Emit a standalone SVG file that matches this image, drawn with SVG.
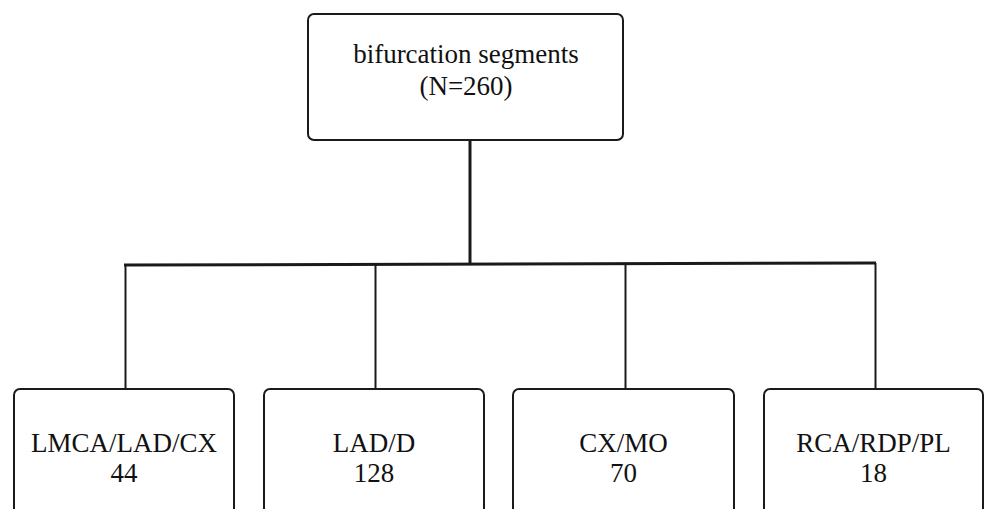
<svg xmlns="http://www.w3.org/2000/svg" width="984" height="509" viewBox="0 0 984 509">
<style>
.box{fill:#fff;stroke:#1a1a1a;stroke-width:2}
.t{font-family:"Liberation Serif","Times New Roman",serif;font-size:27px;fill:#111;text-anchor:middle}
.c{stroke:#1a1a1a;fill:none}
</style>
<rect width="984" height="509" fill="#fff"/>
<g id="connectors">
<line class="c" x1="470" y1="140" x2="470" y2="265" stroke-width="3"/>
<line class="c" x1="124" y1="265" x2="876" y2="263" stroke-width="3"/>
<line class="c" x1="125.5" y1="265" x2="125.5" y2="389" stroke-width="2" stroke="#444"/>
<line class="c" x1="375.5" y1="264" x2="375.5" y2="389" stroke-width="2" stroke="#444"/>
<line class="c" x1="625.5" y1="264" x2="625.5" y2="389" stroke-width="2" stroke="#444"/>
<line class="c" x1="875.5" y1="263" x2="875.5" y2="389" stroke-width="2" stroke="#444"/>
</g>
<g id="root">
<rect class="box" x="308" y="14" width="315" height="126" rx="6"/>
<text class="t" x="466" y="63">bifurcation segments</text>
<text class="t" x="466" y="95">(N=260)</text>
</g>
<g id="n1">
<rect class="box" x="14" y="389" width="220" height="140" rx="6"/>
<text class="t" x="124" y="452">LMCA/LAD/CX</text>
<text class="t" x="124" y="482">44</text>
</g>
<g id="n2">
<rect class="box" x="264" y="389" width="220" height="140" rx="6"/>
<text class="t" x="374" y="452">LAD/D</text>
<text class="t" x="374" y="482">128</text>
</g>
<g id="n3">
<rect class="box" x="513" y="389" width="221" height="140" rx="6"/>
<text class="t" x="623.5" y="452">CX/MO</text>
<text class="t" x="623.5" y="482">70</text>
</g>
<g id="n4">
<rect class="box" x="764" y="389" width="219" height="140" rx="6"/>
<text class="t" x="873.5" y="452">RCA/RDP/PL</text>
<text class="t" x="873.5" y="482">18</text>
</g>
</svg>
